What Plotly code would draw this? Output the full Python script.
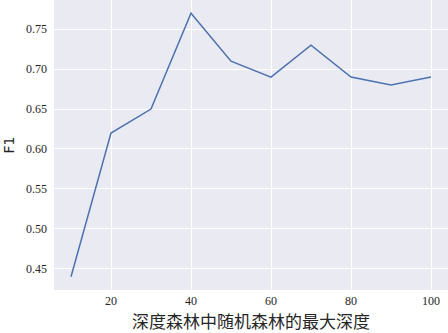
import plotly.graph_objects as go

depth = [10, 20, 30, 40, 50, 60, 70, 80, 90, 100]
f1 = [0.44, 0.62, 0.65, 0.77, 0.71, 0.69, 0.73, 0.69, 0.68, 0.69]
x_ticks = [20, 40, 60, 80, 100]
y_ticks = [0.45, 0.50, 0.55, 0.60, 0.65, 0.70, 0.75]
x_title = "深度森林中随机森林的最大深度"

fig = go.Figure()
fig.add_trace(go.Scatter(x=depth, y=f1, mode="lines",
                         line=dict(color="#4C72B0", width=1.5)))

fig.update_layout(
    width=448, height=333,
    margin=dict(l=54, r=0, t=0, b=43, autoexpand=False),
    paper_bgcolor="white", plot_bgcolor="#EAEAF2",
    showlegend=False,
    xaxis=dict(range=[5.75, 104.25], tickvals=x_ticks,
               ticktext=[str(v) for v in x_ticks],
               showgrid=True, gridcolor="white", gridwidth=1,
               zeroline=False, showline=False, ticks="",
               ticklabelstandoff=2,
               tickfont=dict(family="Liberation Serif", size=12, color="#262626")),
    yaxis=dict(range=[0.4235, 0.7865], tickvals=y_ticks,
               ticktext=["%.2f" % v for v in y_ticks],
               showgrid=True, gridcolor="white", gridwidth=1,
               zeroline=False, showline=False, ticks="",
               ticklabelstandoff=6,
               tickfont=dict(family="Liberation Serif", size=12, color="#262626"),
               title=dict(text="F1", standoff=8,
                          font=dict(family="DejaVu Sans", size=14, color="#262626"))),
    annotations=[dict(text=x_title, xref="paper", yref="paper", x=0.5, y=0,
                      xanchor="center", yanchor="middle", yshift=-30.5,
                      showarrow=False, borderpad=0,
                      font=dict(family="Noto Sans CJK SC", size=17, color="#262626"))],
)

fig.write_html("out.html", config={"displayModeBar": False},
               post_script="document.body.style.margin='0';document.body.style.overflow='hidden';")
